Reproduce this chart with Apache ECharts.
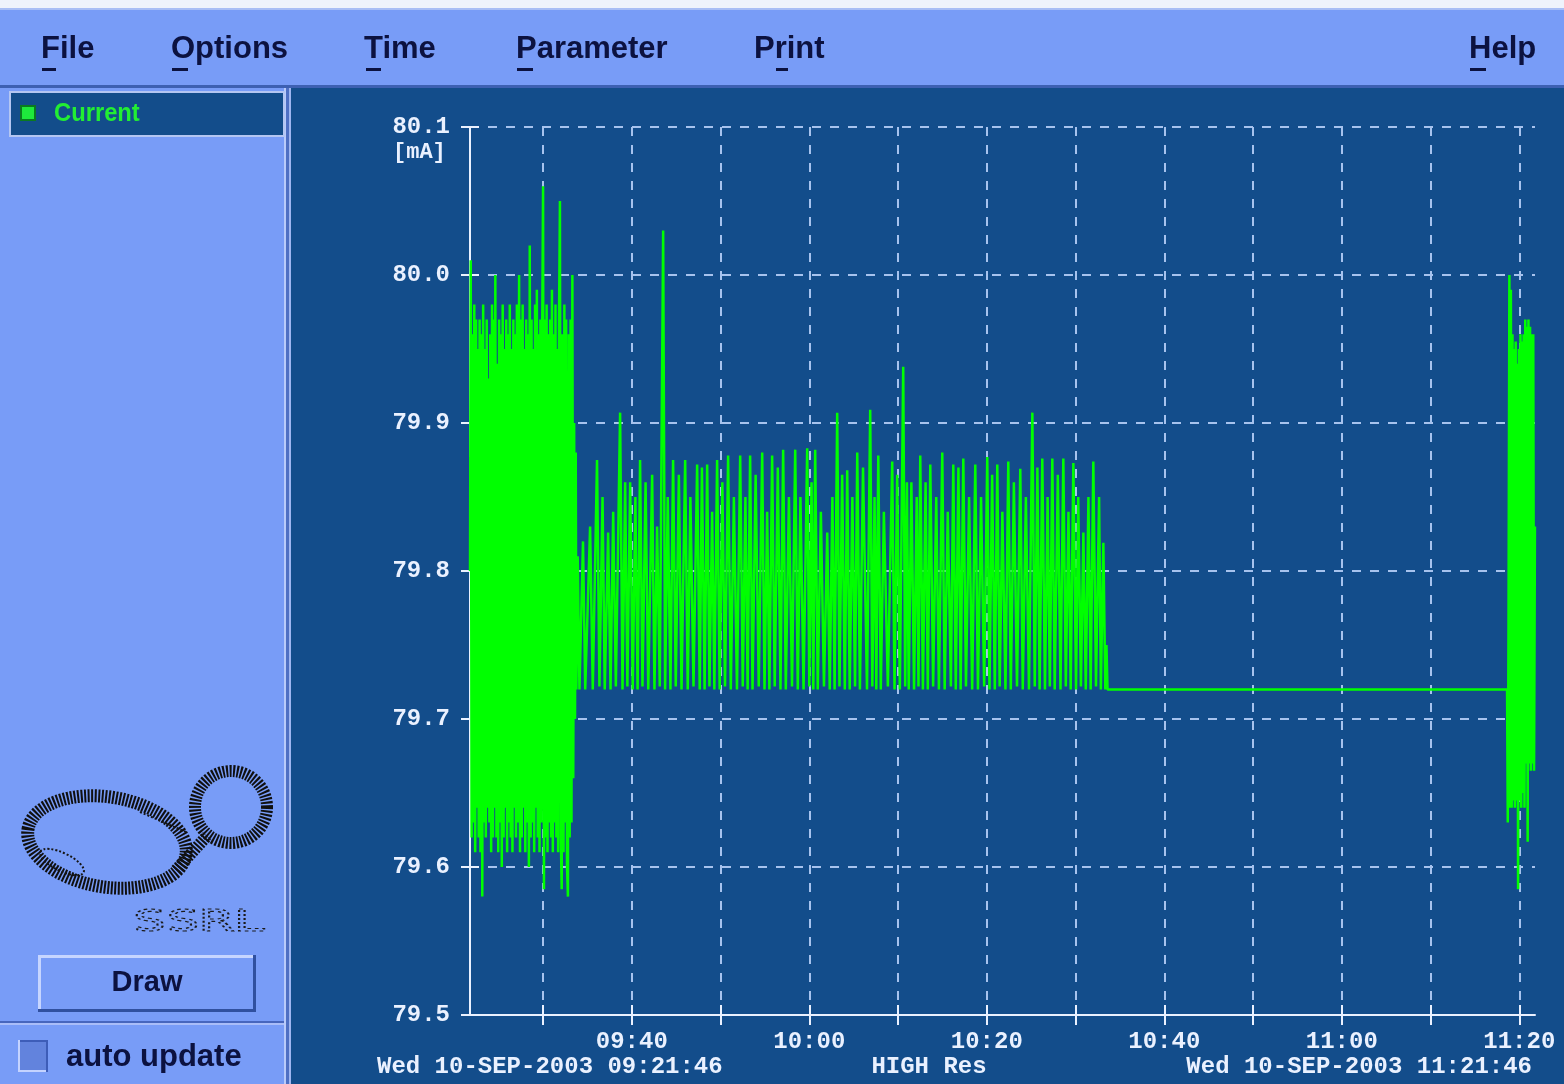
<!DOCTYPE html>
<html>
<head>
<meta charset="utf-8">
<script src="https://cdn.jsdelivr.net/npm/echarts@6/dist/echarts.min.js"></script>
<style>
html,body{margin:0;padding:0;background:#134d8b;overflow:hidden;}
#chart{width:1564px;height:1084px;}
</style>
</head>
<body>
<div id="chart"></div>
<script>
// ---- labels / text ----
const menuItems = ['File', 'Options', 'Time', 'Parameter', 'Print', 'Help'];
const seriesName = 'Current';
const unitLabel = '[mA]';
const startStamp = 'Wed 10-SEP-2003 09:21:46';
const endStamp = 'Wed 10-SEP-2003 11:21:46';
const resolutionLabel = 'HIGH Res';
const drawLabel = 'Draw';
const autoLabel = 'auto update';
const logoLabel = 'SSRL';

// ---- axes (x in minutes after 09:00) ----
const xMin = 21.767;   // 09:21:46
const xMax = 141.767;  // 11:21:46
const xTickMinutes = [30, 40, 50, 60, 70, 80, 90, 100, 110, 120, 130, 140];
const xLabelMinutes = [40, 60, 80, 100, 120, 140];
const yMin = 79.5, yMax = 80.1, yStep = 0.1;

// ---- series values [minutes after 09:00, mA] ----
const burstStart = [
[21.77,79.80],[21.85,80.01],[21.95,79.62],[22.05,79.96],[22.15,79.63],[22.25,79.98],[22.35,79.61],[22.45,79.97],[22.55,79.64],[22.65,79.95],
[22.75,79.62],[22.85,79.97],[22.95,79.61],[23.05,79.96],[23.15,79.58],[23.25,79.98],[23.35,79.63],[23.45,79.95],[23.55,79.62],[23.65,79.97],
[23.75,79.64],[23.85,79.93],[23.95,79.63],[24.05,79.96],[24.15,79.61],[24.25,79.98],[24.35,79.62],[24.45,79.97],[24.55,79.64],[24.62,80.00],
[24.75,79.62],[24.85,79.94],[24.95,79.61],[25.05,79.97],[25.15,79.63],[25.25,79.96],[25.35,79.60],[25.45,79.98],[25.55,79.62],[25.65,79.95],
[25.75,79.64],[25.85,79.97],[25.95,79.61],[26.05,79.96],[26.15,79.63],[26.25,79.98],[26.35,79.62],[26.45,79.95],[26.55,79.61],[26.65,79.97],
[26.75,79.64],[26.85,79.96],[26.95,79.62],[27.05,79.98],[27.15,79.63],[27.30,80.00],[27.40,79.61],[27.50,79.97],[27.60,79.62],[27.70,79.98],
[27.80,79.64],[27.90,79.95],[28.00,79.61],[28.10,79.97],[28.20,79.63],[28.30,79.96],[28.40,79.60],[28.50,80.02],[28.60,79.62],[28.70,79.97],
[28.80,79.63],[28.90,79.95],[29.00,79.61],[29.10,79.98],[29.20,79.64],[29.30,79.99],[29.40,79.62],[29.50,79.96],[29.60,79.61],[29.70,79.97],
[29.80,79.63],[29.90,79.96],[30.00,80.06],[30.10,79.585],[30.20,79.97],[30.30,79.62],[30.40,79.98],[30.50,79.61],[30.60,79.96],[30.70,79.63],
[30.80,79.97],[30.90,79.62],[31.00,79.99],[31.10,79.61],[31.20,79.96],[31.30,79.63],[31.40,79.98],[31.50,79.62],[31.60,79.95],[31.70,79.61],
[31.80,79.97],[31.90,80.05],[32.00,79.62],[32.10,79.585],[32.20,79.96],[32.30,79.61],[32.40,79.98],[32.50,79.63],[32.60,79.97],[32.70,79.60],
[32.80,79.58],[32.90,79.96],[33.00,79.62],[33.10,79.97],[33.20,79.63],[33.30,80.00],[33.40,79.66],[33.50,79.90],[33.60,79.70],[33.68,79.88],[33.75,79.72]
];
const ripple = [
[33.90,79.81],[34.10,79.72],[34.50,79.82],[34.75,79.72],[35.30,79.83],[35.60,79.72],
[36.08,79.875],[36.35,79.722],[36.70,79.85],[36.95,79.72],
[37.33,79.826],[37.60,79.72],[37.90,79.84],[38.20,79.722],
[38.68,79.907],[38.95,79.72],[39.25,79.86],[39.50,79.722],
[39.81,79.86],[40.10,79.72],[40.40,79.85],[40.65,79.72],
[40.93,79.875],[41.20,79.722],[41.55,79.86],[41.85,79.72],
[42.29,79.865],[42.55,79.72],[42.85,79.83],[43.15,79.722],
[43.53,80.03],[43.75,79.72],[44.05,79.85],[44.35,79.72],
[44.65,79.875],[44.95,79.722],[45.30,79.865],[45.60,79.72],
[46.01,79.875],[46.30,79.72],[46.60,79.85],[46.95,79.722],
[47.36,79.872],[47.65,79.72],[47.90,79.87],[48.20,79.72],
[48.49,79.872],[48.75,79.722],[49.05,79.84],[49.30,79.72],
[49.61,79.875],[49.90,79.72],[50.20,79.86],[50.50,79.722],
[50.85,79.878],[51.15,79.72],[51.50,79.85],[51.85,79.72],
[52.21,79.878],[52.50,79.722],[52.80,79.85],[53.05,79.72],
[53.33,79.878],[53.60,79.72],[53.95,79.865],[54.30,79.722],
[54.69,79.880],[54.95,79.72],[55.25,79.84],[55.50,79.72],
[55.81,79.878],[56.10,79.722],[56.45,79.87],[56.75,79.72],
[57.05,79.882],[57.35,79.72],[57.70,79.85],[58.05,79.722],
[58.41,79.882],[58.70,79.72],[59.00,79.85],[59.35,79.72],
[59.76,79.883],[60.00,79.722],[60.25,79.86],[60.45,79.72],
[60.66,79.882],[60.95,79.72],[61.30,79.84],[61.65,79.722],
[62.02,79.826],[62.30,79.72],[62.60,79.85],[62.85,79.72],
[63.14,79.907],[63.40,79.722],[63.70,79.865],[64.00,79.72],
[64.27,79.868],[64.55,79.72],[64.85,79.85],[65.15,79.722],
[65.40,79.880],[65.70,79.72],[66.05,79.87],[66.50,79.72],
[66.86,79.909],[67.10,79.722],[67.35,79.85],[67.55,79.72],
[67.77,79.878],[68.05,79.72],[68.40,79.84],[68.85,79.722],
[69.34,79.874],[69.60,79.72],[69.90,79.865],[70.20,79.72],
[70.58,79.938],[70.80,79.722],[71.00,79.86],[71.20,79.72],
[71.50,79.860],[71.80,79.72],[72.10,79.85],[72.30,79.722],
[72.50,79.878],[72.80,79.72],[73.10,79.86],[73.35,79.72],
[73.63,79.872],[73.95,79.722],[74.30,79.85],[74.60,79.72],
[74.98,79.880],[75.25,79.72],[75.60,79.84],[75.95,79.722],
[76.22,79.872],[76.50,79.72],[76.80,79.87],[77.05,79.72],
[77.35,79.876],[77.65,79.722],[78.00,79.85],[78.35,79.72],
[78.70,79.872],[79.00,79.72],[79.35,79.85],[79.70,79.722],
[80.05,79.877],[80.30,79.72],[80.60,79.865],[80.90,79.72],
[81.18,79.872],[81.45,79.722],[81.75,79.84],[82.10,79.72],
[82.42,79.874],[82.70,79.72],[83.05,79.86],[83.40,79.722],
[83.77,79.869],[84.05,79.72],[84.40,79.85],[84.75,79.72],
[85.13,79.907],[85.40,79.722],[85.70,79.87],[85.95,79.72],
[86.25,79.876],[86.55,79.72],[86.85,79.85],[87.10,79.722],
[87.38,79.876],[87.65,79.72],[88.00,79.865],[88.30,79.72],
[88.62,79.876],[88.90,79.722],[89.20,79.84],[89.45,79.72],
[89.75,79.873],[90.05,79.72],[90.30,79.85],[90.60,79.722],
[90.88,79.826],[91.15,79.72],[91.45,79.85],[91.70,79.72],
[92.00,79.874],[92.30,79.722],[92.65,79.85],[92.85,79.72],
[93.13,79.819],[93.35,79.72],[93.48,79.75],[93.60,79.72]
];
const flatHold = [[138.62,79.72]];
const burstEnd = [
[138.70,79.63],[138.78,79.76],[138.88,80.00],[138.96,79.64],[139.05,79.99],[139.14,79.64],[139.23,79.96],[139.32,79.645],
[139.41,79.95],[139.50,79.64],[139.59,79.955],[139.68,79.645],[139.77,79.94],[139.86,79.585],[139.95,79.95],[140.04,79.645],
[140.13,79.96],[140.22,79.64],[140.31,79.955],[140.40,79.65],[140.49,79.96],[140.58,79.64],[140.67,79.97],[140.76,79.67],
[140.85,79.965],[140.94,79.617],[141.03,79.97],[141.12,79.67],[141.21,79.965],[141.30,79.665],[141.39,79.96],[141.48,79.67],
[141.57,79.96],[141.66,79.665],[141.76,79.83]
];

const currentData = burstStart.concat(ripple, flatHold, burstEnd);

// ---- styling ----
const PANEL = '#789cf7';
const DARK = '#134d8b';
const INK = '#0c1240';
const AXIS = '#eaf1ff';
const GRIDC = '#a7c3ee';
const LINE = '#00ff00';
const monoFont = '"Liberation Mono","DejaVu Sans Mono",monospace';
const sansFont = '"Liberation Sans","DejaVu Sans",sans-serif';

function fmtTime(v) {
  const h = 9 + Math.floor(v / 60);
  const m = Math.round(v % 60);
  return String(h).padStart(2, '0') + ':' + String(m).padStart(2, '0');
}

function txt(x, y, text, font, fill, align, extra) {
  return Object.assign({
    type: 'text', x: x, y: y, silent: true,
    style: { text: text, font: font, fill: fill, align: align || 'left', verticalAlign: 'middle',
             textAlign: align || 'left', textVerticalAlign: 'middle' }
  }, extra || {});
}
function rect(x, y, w, h, fill, extra) {
  return Object.assign({ type: 'rect', silent: true, shape: { x: x, y: y, width: w, height: h }, style: { fill: fill } }, extra || {});
}

const menuX = [41, 171, 364, 516, 754, 1469];
const underline = [[42, 14], [172, 16], [366, 15], [517, 16], [776, 12], [1470, 16]];

const graphics = [
  // top strip + menu bar
  rect(0, 0, 1564, 8, '#eef2fb'),
  rect(0, 8, 1564, 2, '#a8bdf5'),
  rect(0, 10, 1564, 75, PANEL),
  rect(0, 85, 1564, 3, '#3d60b2'),
  // left panel
  rect(0, 88, 285, 996, PANEL),
  rect(284, 88, 2, 996, '#b9cbfa'),
  rect(286, 88, 3, 996, '#4f70c4'),
  rect(289, 88, 2, 996, '#9fb6f0'),
  // legend box
  rect(10, 92, 274, 44, DARK, { style: { fill: DARK, stroke: '#b4c6f2', lineWidth: 2 } }),
  rect(21, 106, 14, 14, '#1ee83c', { style: { fill: '#1ee83c', stroke: '#0a7a20', lineWidth: 2 } }),
  txt(54, 114, seriesName, 'bold 25px ' + sansFont, '#22ee33', 'left', { scaleX: 0.95 }),
  // logo
  { type: 'ellipse', x: 107, y: 842, rotation: -0.16, silent: true, shape: { cx: 0, cy: 0, rx: 80, ry: 45 },
    style: { fill: 'none', stroke: '#101010', lineWidth: 13, lineDash: [2, 1.5] } },
  { type: 'circle', silent: true, shape: { cx: 231, cy: 807, r: 36 },
    style: { fill: 'none', stroke: '#101010', lineWidth: 12, lineDash: [2, 1.5] } },
  { type: 'line', silent: true, shape: { x1: 176, y1: 870, x2: 207, y2: 836 },
    style: { stroke: '#101010', lineWidth: 12, lineDash: [2, 1.5] } },
  { type: 'line', silent: true, shape: { x1: 140, y1: 812, x2: 186, y2: 832 },
    style: { stroke: '#151515', lineWidth: 2, lineDash: [2, 2] } },
  { type: 'ellipse', x: 62, y: 862, rotation: -0.45, silent: true, shape: { cx: 0, cy: 0, rx: 24, ry: 9 },
    style: { fill: 'none', stroke: '#151515', lineWidth: 2, lineDash: [2, 2] } },
  txt(133, 923, logoLabel, '30px "DejaVu Sans Mono",monospace', 'rgba(0,0,0,0)', 'left',
      { scaleX: 1.85, style: { text: logoLabel, font: '30px "DejaVu Sans Mono",monospace', fill: 'rgba(0,0,0,0)',
        stroke: '#1a1a1a', lineWidth: 1.2, lineDash: [2, 2], align: 'left', verticalAlign: 'middle' } }),
  // Draw button
  rect(38, 955, 218, 57, PANEL),
  rect(38, 955, 218, 3, '#c6d5ff'),
  rect(38, 955, 3, 57, '#c6d5ff'),
  rect(38, 1009, 218, 3, '#30509f'),
  rect(253, 955, 3, 57, '#30509f'),
  txt(147, 983, drawLabel, 'bold 29px ' + sansFont, INK, 'center'),
  // separator
  rect(0, 1021, 284, 2, '#4766bd'),
  rect(0, 1023, 284, 2, '#a9bdf8'),
  // checkbox
  rect(18, 1040, 30, 32, '#6283dd'),
  rect(18, 1040, 30, 2, '#3d5db8'),
  rect(18, 1040, 2, 32, '#c4d3ff'),
  rect(18, 1070, 30, 2, '#c4d3ff'),
  rect(46, 1040, 2, 32, '#3d5db8'),
  txt(66, 1057, autoLabel, 'bold 31px ' + sansFont, INK, 'left'),
  // unit + bottom stamps
  txt(393, 152, unitLabel, 'bold 22px ' + monoFont, AXIS, 'left'),
  txt(377, 1067, startStamp, 'bold 24px ' + monoFont, AXIS, 'left'),
  txt(929, 1067, resolutionLabel, 'bold 24px ' + monoFont, AXIS, 'center'),
  txt(1532, 1067, endStamp, 'bold 24px ' + monoFont, AXIS, 'right')
];
menuItems.forEach(function (m, i) {
  graphics.push(txt(menuX[i], 49, m, 'bold 31px ' + sansFont, INK, 'left'));
  graphics.push(rect(underline[i][0], 68, underline[i][1], 3, INK));
});

const axisLabelStyle = { color: AXIS, fontFamily: monoFont, fontWeight: 'bold', fontSize: 24 };
const tickStyle = { color: AXIS, width: 2 };
const gridLine = { show: true, lineStyle: { color: GRIDC, width: 2, type: [9, 9] } };

const chart = echarts.init(document.getElementById('chart'), null, { renderer: 'canvas', width: 1564, height: 1084 });
chart.setOption({
  animation: false,
  backgroundColor: DARK,
  grid: { left: 470, top: 127, width: 1065, height: 888, containLabel: false },
  xAxis: [{
    type: 'value', min: xMin, max: xMax, position: 'bottom',
    axisLine: { show: true, lineStyle: { color: AXIS, width: 2 } },
    axisTick: { show: true, inside: false, length: 10, customValues: xTickMinutes, lineStyle: tickStyle },
    axisLabel: Object.assign({ customValues: xLabelMinutes, formatter: fmtTime, margin: 15 }, axisLabelStyle),
    splitLine: gridLine
  }, {
    type: 'value', min: xMin, max: xMax, position: 'bottom',
    axisLine: { show: false },
    axisTick: { show: true, inside: true, length: 10, customValues: xTickMinutes, lineStyle: tickStyle },
    axisLabel: { show: false, customValues: xLabelMinutes },
    splitLine: { show: false }
  }],
  yAxis: [{
    type: 'value', min: yMin, max: yMax, interval: yStep, position: 'left',
    axisLine: { show: true, lineStyle: { color: AXIS, width: 2 } },
    axisTick: { show: true, inside: false, length: 9, lineStyle: tickStyle },
    axisLabel: Object.assign({ formatter: function (v) { return v.toFixed(1); }, margin: 20 }, axisLabelStyle),
    splitLine: gridLine
  }, {
    type: 'value', min: yMin, max: yMax, interval: yStep, position: 'left',
    axisLine: { show: false },
    axisTick: { show: true, inside: true, length: 9, lineStyle: tickStyle },
    axisLabel: { show: false },
    splitLine: { show: false }
  }],
  series: [{
    name: seriesName, type: 'line', data: currentData,
    xAxisIndex: 0, yAxisIndex: 0,
    showSymbol: false, symbol: 'none', silent: true,
    lineStyle: { color: LINE, width: 2.5 },
    z: 3
  }],
  graphic: { elements: graphics }
});
</script>
</body>
</html>
